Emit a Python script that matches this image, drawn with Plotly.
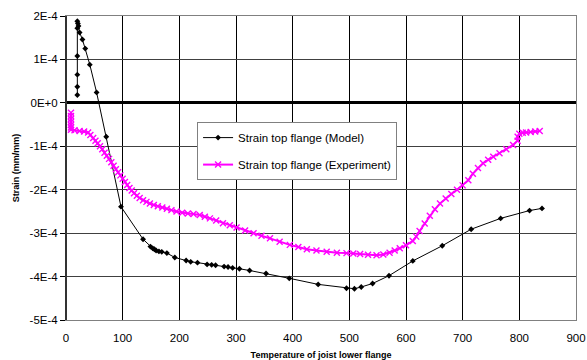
import plotly.graph_objects as go

# Model data (temperature, strain in units of 1E-4)
model_temp = [20, 20, 20, 20, 20, 20, 21, 22, 24, 29, 34, 42, 54, 71, 97, 136, 149, 153, 156, 159,
              164, 169, 178, 192, 212, 220, 232, 249, 257, 264, 279, 286, 294, 306, 324, 353, 394,
              445, 495, 509, 521, 541, 570, 612, 664, 715, 767, 818, 840]
model_strain = [0.18, 0.37, 0.65, 1.08, 1.72, 1.88, 1.83, 1.77, 1.62, 1.46, 1.25, 0.88, 0.24, -0.78,
                -2.39, -3.14, -3.31, -3.35, -3.37, -3.40, -3.42, -3.43, -3.46, -3.56, -3.63, -3.66,
                -3.68, -3.72, -3.73, -3.74, -3.77, -3.78, -3.80, -3.82, -3.86, -3.93, -4.04, -4.18,
                -4.27, -4.28, -4.24, -4.16, -3.98, -3.64, -3.29, -2.91, -2.66, -2.48, -2.43]

# Experiment data
exp_temp = [8.8, 8.8, 8.8, 8.8, 8.8, 8.8, 8.8, 15, 24, 32, 39, 43, 48, 52, 56, 60, 64, 68, 72, 76,
            80, 84, 88, 92, 96, 100, 104, 108, 112, 116, 120, 125, 130, 136, 142, 148, 155, 162,
            170, 178, 186, 195, 205, 215, 225, 236, 245, 254, 265, 277, 289, 301, 316, 331, 345,
            360, 377, 395, 410, 425, 442, 460, 478, 495, 507, 519, 533, 548, 560, 571, 580, 589,
            600, 612, 618, 624, 633, 642, 651, 660, 670, 680, 690, 700, 710, 718, 727, 736, 745,
            754, 765, 777, 789, 797, 797, 800, 806, 812, 820, 828, 836]
exp_strain = [-0.23, -0.30, -0.37, -0.44, -0.51, -0.57, -0.62, -0.63, -0.65, -0.66, -0.68, -0.74,
              -0.81, -0.87, -0.93, -1.00, -1.07, -1.15, -1.22, -1.29, -1.37, -1.45, -1.53, -1.60,
              -1.67, -1.75, -1.82, -1.89, -1.96, -2.02, -2.08, -2.14, -2.19, -2.24, -2.28, -2.32,
              -2.35, -2.38, -2.41, -2.44, -2.47, -2.50, -2.53, -2.55, -2.56, -2.58, -2.62, -2.66,
              -2.71, -2.77, -2.82, -2.87, -2.94, -3.00, -3.06, -3.12, -3.20, -3.27, -3.32, -3.37,
              -3.40, -3.43, -3.45, -3.46, -3.47, -3.48, -3.50, -3.51, -3.49, -3.45, -3.40, -3.35,
              -3.28, -3.18, -3.08, -2.95, -2.78, -2.60, -2.45, -2.32, -2.20, -2.10, -2.00, -1.90,
              -1.78, -1.63, -1.50, -1.39, -1.31, -1.24, -1.16, -1.07, -0.97, -0.87, -0.78, -0.71,
              -0.69, -0.68, -0.67, -0.66, -0.65]

x_ticks = [0, 100, 200, 300, 400, 500, 600, 700, 800, 900]
y_ticks = [-5e-4, -4e-4, -3e-4, -2e-4, -1e-4, 0, 1e-4, 2e-4]
y_ticktext = ["-5E-4", "-4E-4", "-3E-4", "-2E-4", "-1E-4", "0E+0", "1E-4", "2E-4"]

scale = 1e-4
font = "Liberation Sans, Arial, sans-serif"

fig = go.Figure()
fig.add_trace(go.Scatter(
    x=model_temp, y=[v * scale for v in model_strain],
    mode="lines+markers", name="Strain top flange (Model)",
    line=dict(color="black", width=1),
    marker=dict(symbol="diamond", size=4.5, color="black"),
    legendgroup="a",
))
fig.add_trace(go.Scatter(
    x=exp_temp, y=[v * scale for v in exp_strain],
    mode="lines+markers", name="Strain top flange (Experiment)",
    line=dict(color="#FF00FF", width=2),
    marker=dict(symbol="x-thin", size=6, color="#FF00FF", line=dict(color="#FF00FF", width=1.4)),
    legendgroup="b",
))

fig.update_layout(
    width=587, height=360,
    margin=dict(l=66, r=11, t=16, b=40),
    paper_bgcolor="white", plot_bgcolor="white",
    font=dict(family=font, size=11, color="black"),
    showlegend=True,
    legend=dict(
        x=0.257, y=0.651, xanchor="left", yanchor="top",
        bgcolor="white", bordercolor="#808080", borderwidth=1,
        font=dict(family=font, size=11.5, color="black"),
        tracegroupgap=8, itemwidth=30,
    ),
    xaxis=dict(
        range=[0, 900], tickvals=x_ticks, ticktext=[str(t) for t in x_ticks],
        showgrid=True, gridcolor="black", gridwidth=1,
        showline=True, linecolor="#808080", linewidth=1, mirror=True,
        ticks="outside", ticklen=7, tickcolor="rgba(0,0,0,0)",
        zeroline=False, automargin=False,
        title=dict(text="<b>Temperature of joist lower flange</b>",
                   font=dict(family=font, size=9), standoff=9),
        tickfont=dict(size=11.5),
    ),
    yaxis=dict(
        range=[-5e-4, 2e-4], tickvals=y_ticks, ticktext=y_ticktext,
        showgrid=True, gridcolor="#404040", gridwidth=1,
        showline=True, linecolor="#808080", linewidth=1, mirror=True,
        ticks="outside", ticklen=5, tickcolor="black",
        zeroline=True, zerolinecolor="black", zerolinewidth=2.5,
        automargin=False,
        title=dict(text="<b>Strain (mm/mm)</b>", font=dict(family=font, size=9), standoff=8),
        tickfont=dict(size=11.5),
    ),
    shapes=[dict(type="line", xref="paper", yref="paper", x0=0, x1=0, y0=0, y1=1,
                 line=dict(color="#333333", width=2))],
)

fig.write_html("out.html")
